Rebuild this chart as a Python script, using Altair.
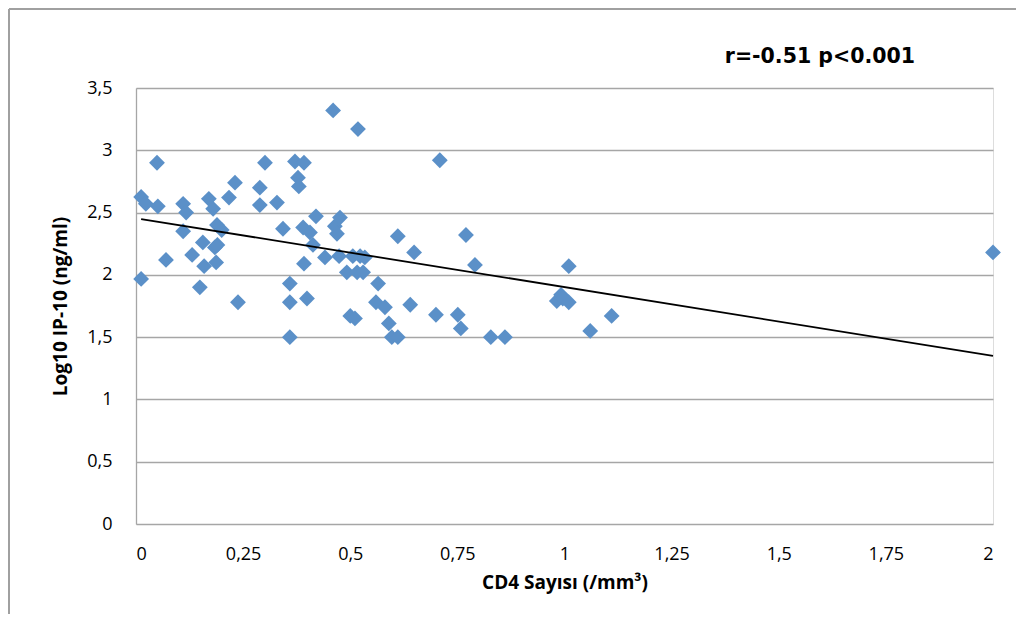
import altair as alt
import pandas as pd

cd4 = [0.012, 0.012, 0.023, 0.049, 0.051, 0.07, 0.11, 0.117, 0.11, 0.131,
       0.149, 0.156, 0.159, 0.17, 0.18, 0.184, 0.187, 0.189, 0.19, 0.20,
       0.217, 0.231, 0.238, 0.289, 0.289, 0.301, 0.329, 0.343, 0.359, 0.359,
       0.359, 0.371, 0.378, 0.38, 0.392, 0.39, 0.392, 0.399, 0.406, 0.413,
       0.42, 0.441, 0.46, 0.464, 0.469, 0.476, 0.474, 0.492, 0.50, 0.506,
       0.511, 0.518, 0.516, 0.523, 0.53, 0.534, 0.565, 0.56, 0.581, 0.59,
       0.597, 0.611, 0.611, 0.649, 0.64, 0.70, 0.709, 0.751, 0.758, 0.77,
       0.791, 0.828, 0.861, 0.982, 0.992, 0.996, 1.01, 1.01, 1.06, 1.11, 2.0]
ip10 = [2.625, 1.967, 2.57, 2.90, 2.55, 2.12, 2.57, 2.50, 2.35, 2.16,
        1.90, 2.26, 2.07, 2.61, 2.53, 2.22, 2.10, 2.40, 2.24, 2.36,
        2.62, 2.74, 1.78, 2.70, 2.56, 2.90, 2.58, 2.37, 1.93, 1.78,
        1.50, 2.91, 2.78, 2.71, 2.90, 2.38, 2.09, 1.81, 2.34, 2.24,
        2.47, 2.14, 3.32, 2.39, 2.33, 2.46, 2.15, 2.02, 1.67, 2.15,
        1.65, 3.17, 2.02, 2.15, 2.02, 2.14, 1.93, 1.78, 1.74, 1.61,
        1.50, 1.50, 2.31, 2.18, 1.76, 1.68, 2.92, 1.68, 1.57, 2.32,
        2.08, 1.50, 1.50, 1.79, 1.84, 1.81, 1.78, 2.07, 1.55, 1.67, 2.18]

trend_x = [0.012, 2.0]
trend_y = [2.448, 1.349]

x_ticks = [0, 0.25, 0.5, 0.75, 1, 1.25, 1.5, 1.75, 2]
y_ticks = [0, 0.5, 1, 1.5, 2, 2.5, 3, 3.5]

stat_text = ["r=-0.51 p<0.001"]

pts = pd.DataFrame({"cd4": cd4, "ip10": ip10})
trend = pd.DataFrame({"cd4": trend_x, "ip10": trend_y})
note = pd.DataFrame({"t": stat_text})

FONT = "Open Sans"
label_expr = "replace(toString(datum.value), '.', ',')"

xenc = alt.X("cd4:Q", scale=alt.Scale(domain=[0, 2], nice=False, zero=True),
             axis=alt.Axis(values=x_ticks, labelExpr=label_expr, title="CD4 Sayısı (/mm³)",
                           grid=False, ticks=False, tickSize=0, domain=False,
                           labelPadding=21, titlePadding=10, labelFontSize=18,
                           titleFontSize=19, labelFont=FONT, titleFont=FONT,
                           labelColor="#000", titleColor="#000", titleFontWeight="bold"))
yenc = alt.Y("ip10:Q", scale=alt.Scale(domain=[0, 3.5], nice=False),
             axis=alt.Axis(values=y_ticks, labelExpr=label_expr, title="Log10 IP-10 (ng/ml)",
                           grid=True, gridColor="#a6a6a6", gridWidth=1.3,
                           ticks=False, tickSize=0, domain=True, domainColor="#a6a6a6",
                           domainWidth=1.3, labelPadding=24, titlePadding=16,
                           labelFontSize=18, titleFontSize=19, labelFont=FONT,
                           titleFont=FONT, labelColor="#000", titleColor="#000",
                           titleFontWeight="bold"))

points = alt.Chart(pts).mark_point(shape="diamond", filled=True, size=250,
                                   color="#5b90c8", opacity=1).encode(x=xenc, y=yenc)
line = alt.Chart(trend).mark_line(color="#000", strokeWidth=1.8).encode(x="cd4:Q", y="ip10:Q")

label = alt.Chart(note).mark_text(align="right", baseline="middle", font="DejaVu Sans",
                                  fontWeight="bold", fontSize=20.5, color="#000").encode(
    text="t:N", x=alt.value(779), y=alt.value(-31))

frame_top = alt.Chart(note).mark_rule(color="#a0a0a0", strokeWidth=2).encode(
    x=alt.value(-127), x2=alt.value(900), y=alt.value(-79))
frame_left = alt.Chart(note).mark_rule(color="#a0a0a0", strokeWidth=2).encode(
    x=alt.value(-127), y=alt.value(-79), y2=alt.value(540))

chart = alt.layer(points, line, label, frame_top, frame_left).properties(
    width=857, height=436,
    autosize=alt.AutoSizeParams(type="none"),
    padding={"left": 128, "top": 80, "right": 23, "bottom": 90},
).configure_view(stroke=None).configure(background="white")

chart.save("out.html", embed_options={"renderer": "svg", "actions": False})
